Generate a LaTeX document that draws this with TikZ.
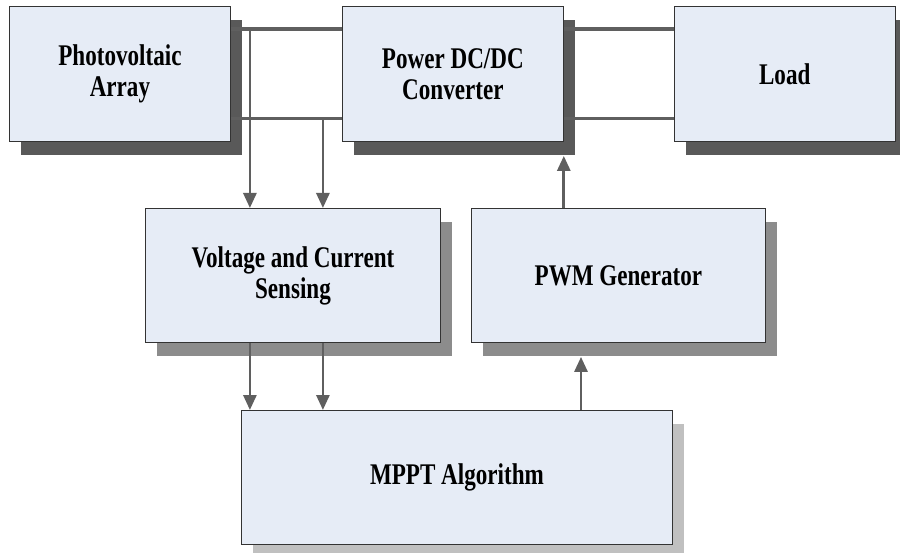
\documentclass[tikz,border=0pt]{standalone}
\usepackage{fontspec}
\newfontfamily\boxfont{Liberation Serif}[FakeStretch=0.77]
\usepackage{xcolor}
\usepackage{tikz}
\usetikzlibrary{arrows.meta,positioning,calc,shadows}
\definecolor{boxfill}{RGB}{230,236,246}
\definecolor{boxline}{RGB}{51,51,51}
\definecolor{wirecol}{RGB}{95,95,95}
\definecolor{shdark}{RGB}{89,89,89}
\definecolor{shmid}{RGB}{140,140,140}
\definecolor{shlight}{RGB}{192,192,192}
\tikzset{
  block/.style={rectangle, draw=boxline, line width=0.9pt, fill=boxfill,
                align=center, inner sep=4pt,
                font=\boxfont\bfseries\fontsize{30}{31}\selectfont},
  shd/.style={drop shadow={shadow xshift=12pt, shadow yshift=-14pt,
                fill=#1, opacity=1}},
  wire/.style={draw=wirecol, line width=3.2pt},
  ar/.style={-{Triangle[length=15pt,width=13pt]}, draw=wirecol, fill=wirecol, line width=2.8pt}
}
\begin{document}
\begin{tikzpicture}[x=1pt, y=-1pt,
  top/.style={block, shd=shdark, minimum width=221pt, minimum height=135pt},
  mid/.style={block, shd=shmid, minimum width=295pt, minimum height=134pt}
]
\useasboundingbox (0,0) rectangle (900,553);
\node[top, anchor=north west] (pv) at (9,6) {Photovoltaic\\Array};
\node[top, right=111pt of pv] (conv) {Power DC/DC\\Converter};
\node[top, right=110pt of conv] (load) {Load};
\node[mid, anchor=north west] (sense) at (145,208) {Voltage and Current\\Sensing};
\node[mid, minimum width=294pt, right=30pt of sense] (pwm) {PWM Generator};
\node[block, shd=shlight, minimum width=431pt, minimum height=134pt, anchor=north west] (mppt) at (241,410) {MPPT Algorithm};
% power lines
\draw[wire] ([yshift=-23pt]pv.north east) -- ([yshift=-23pt]conv.north west);
\draw[wire] ([yshift=23pt]pv.south east) -- ([yshift=23pt]conv.south west);
\draw[wire] ([yshift=-23pt]conv.north east) -- ([yshift=-23pt]load.north west);
\draw[wire] ([yshift=23pt]conv.south east) -- ([yshift=23pt]load.south west);
% sensing taps
\coordinate (tv) at ([xshift=19pt,yshift=-23pt]pv.north east);
\coordinate (ti) at ([xshift=92pt,yshift=23pt]pv.south east);
\draw[ar] (tv) -- (tv |- sense.north);
\draw[ar] (ti) -- (ti |- sense.north);
\draw[ar] (tv |- sense.south) -- (tv |- mppt.north);
\draw[ar] (ti |- sense.south) -- (ti |- mppt.north);
% control path
\coordinate (dc) at ([xshift=340pt]mppt.north west);
\draw[ar] (dc) -- ([yshift=-14pt]dc |- pwm.south);
\coordinate (gc) at ([yshift=-14pt]conv.south east);
\draw[ar] (gc |- pwm.north) -- (gc);
\end{tikzpicture}
\end{document}
